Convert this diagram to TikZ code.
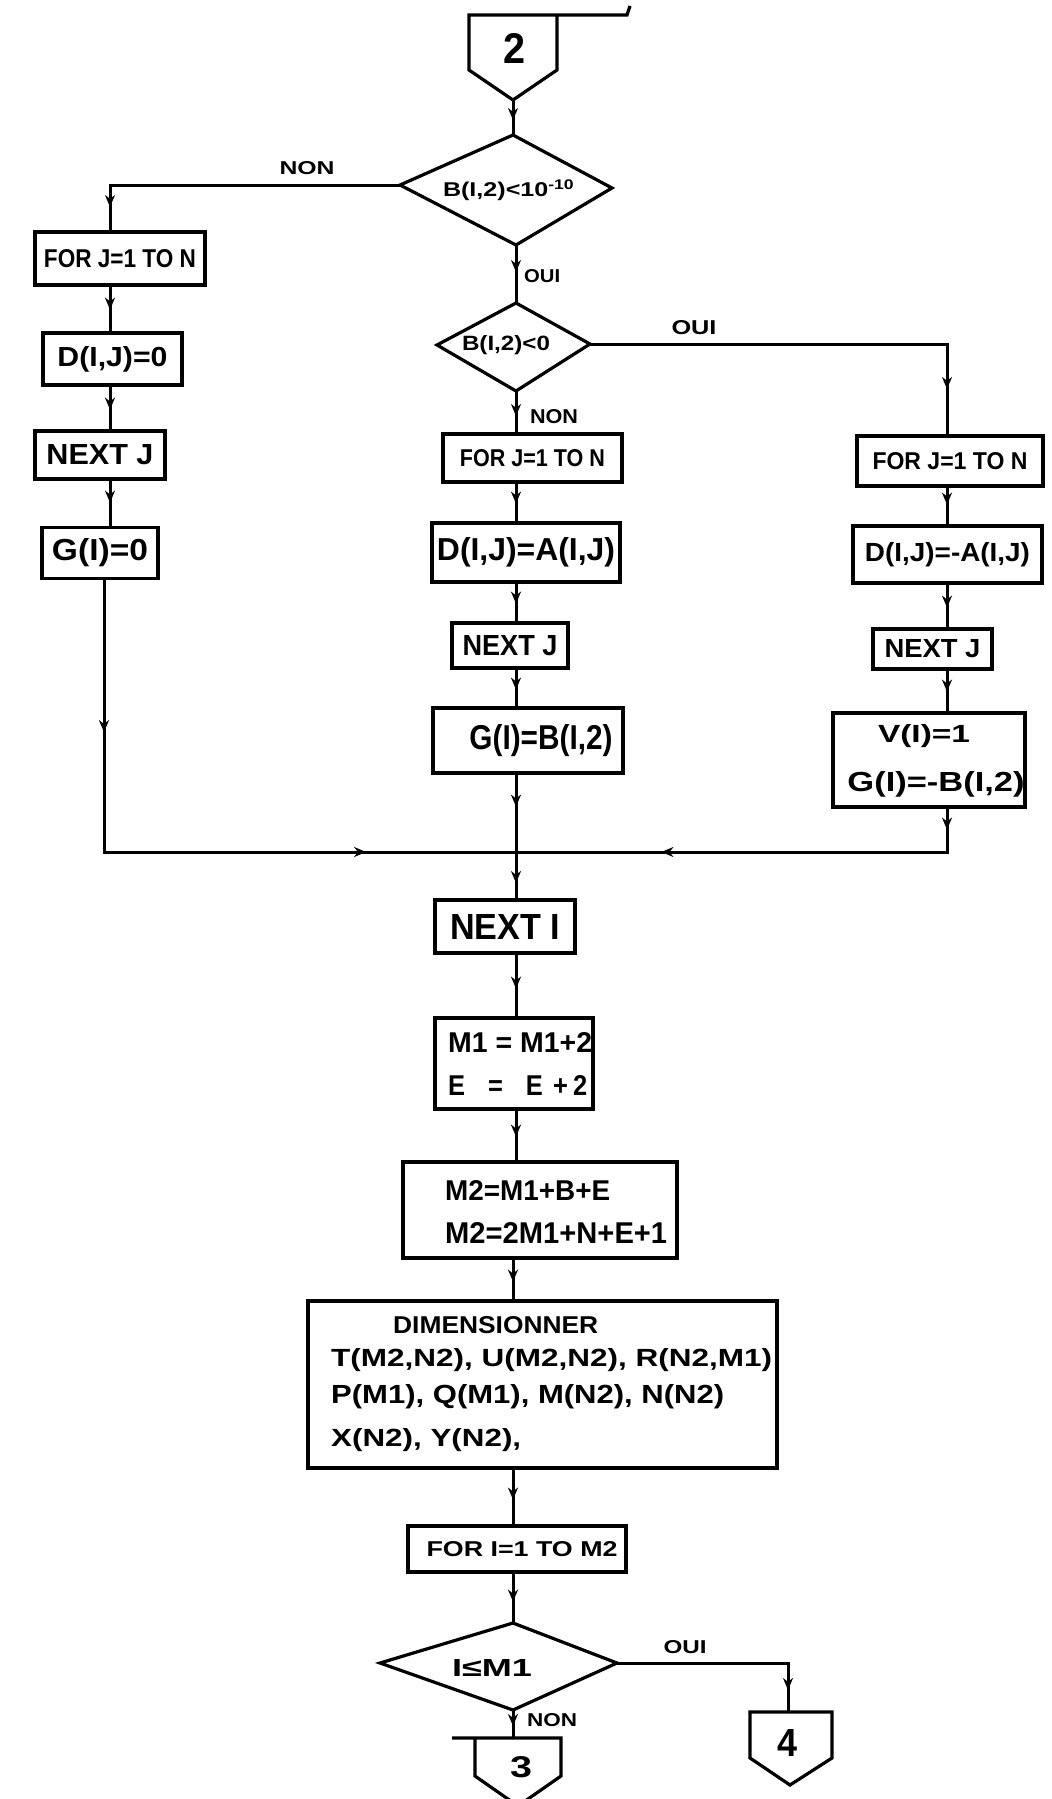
\documentclass[tikz,border=0pt]{standalone}
\usepackage{fontspec}
\setmainfont{Liberation Sans}
\usepackage{graphicx}
\usetikzlibrary{arrows.meta,decorations.markings}
\newcommand{\tw}[3]{\resizebox{#1}{#2}{\bfseries #3}}
\tikzset{
  box/.style={draw, line width=3.2pt, inner sep=0pt, line join=miter},
  txt/.style={inner sep=0pt},
  conn/.style={line width=3pt},
  arrowat/.style={postaction={decorate},decoration={markings,mark=at position #1 with {\arrow{Stealth[length=12pt,width=10pt]}}}},
  arrowtwo/.style 2 args={postaction={decorate},decoration={markings,mark=at position #1 with {\arrow{Stealth[length=12pt,width=10pt]}},mark=at position #2 with {\arrow{Stealth[length=12pt,width=10pt]}}}},
}
\begin{document}
\begin{tikzpicture}[x=1pt,y=-1pt]
\useasboundingbox (0,0) rectangle (1052,1799);
\fill[white] (0,0) rectangle (1052,1799);

% ---- connector 2
\coordinate (p2tl) at (469,15); \coordinate (p2tr) at (557,15);
\coordinate (p2sr) at (557,70); \coordinate (p2tip) at (513,100);
\coordinate (p2sl) at (469,70); \coordinate (p2ext) at (627,15);
\coordinate (p2hook) at (630,6);
\draw[box] (p2hook) -- (p2ext) -- (p2tl) -- (p2sl) -- (p2tip) -- (p2sr) -- (p2tr);
\node[txt] (c2) at (514,48) {\tw{22pt}{30pt}{2}};

% ---- diamond 1
\coordinate (d1t) at (513,135); \coordinate (d1r) at (612,188);
\coordinate (d1b) at (516,245); \coordinate (d1l) at (400,185);
\draw[box] (d1t) -- (d1r) -- (d1b) -- (d1l) -- cycle;
\node[txt] (d1txt) at (509,190) {\tw{132pt}{17pt}{B(I,2)<10\textsuperscript{-10}}};
\draw[conn, arrowat=20pt] (p2tip) -- (d1t);

% ---- left branch
\coordinate (lc) at (110,185);
\node[txt] (non1) at (307,168) {\tw{55pt}{13pt}{NON}};
\node[box, minimum width=170pt, minimum height=53pt] (L1) at (120,258.5) {\tw{152pt}{18pt}{FOR J=1 TO N}};
\node[box, minimum width=139pt, minimum height=52pt] (L2) at (112.5,359) {\tw{110pt}{20pt}{D(I,J)=0}};
\node[box, minimum width=130pt, minimum height=48pt] (L3) at (100,455) {\tw{107pt}{20pt}{NEXT J}};
\node[box, minimum width=116pt, minimum height=51pt] (L4) at (100,553) {\tw{96pt}{22pt}{G(I)=0}};
\draw[conn, arrowat=312pt] (d1l) -- (lc) -- (L1.north -| lc);
\draw[conn, arrowat=23pt] (L1.south -| lc) -- (L2.north -| lc);
\draw[conn, arrowat=23pt] (L2.south -| lc) -- (L3.north -| lc);
\draw[conn, arrowat=22pt] (L3.south -| lc) -- (L4.north -| lc);

% ---- merge coordinates
\coordinate (jl) at (104,852); \coordinate (jm) at (516,852); \coordinate (jr) at (947,852);
\draw[conn, arrowtwo={152pt}{534pt}] (L4.south -| jl) -- (jl) -- (jm);

% ---- diamond 2
\coordinate (d2t) at (516,303); \coordinate (d2r) at (590,344);
\coordinate (d2b) at (516,391); \coordinate (d2l) at (437,345);
\draw[box] (d2t) -- (d2r) -- (d2b) -- (d2l) -- cycle;
\node[txt] (d2txt) at (506,345) {\tw{88pt}{15pt}{B(I,2)<0}};
\draw[conn, arrowat=27pt] (d1b) -- (d2t);
\node[txt, anchor=west] (oui1) at (524,276) {\tw{36pt}{13pt}{OUI}};

% ---- right branch
\coordinate (rc) at (947,344);
\node[txt] (oui2) at (694,328) {\tw{45pt}{14pt}{OUI}};
\node[box, minimum width=186pt, minimum height=50pt] (R1) at (950,461) {\tw{155pt}{17pt}{FOR J=1 TO N}};
\node[box, minimum width=189pt, minimum height=57pt] (R2) at (947.5,554.5) {\tw{165pt}{19pt}{D(I,J)=-A(I,J)}};
\node[box, minimum width=119pt, minimum height=40pt] (R3) at (932.5,649) {\tw{96pt}{18pt}{NEXT J}};
\node[box, minimum width=192pt, minimum height=94pt] (R4) at (929,760) {};
\node[txt] (r4a) at (924,736) {\tw{92pt}{18pt}{V(I)=1}};
\node[txt] (r4b) at (936,784) {\tw{177pt}{20pt}{G(I)=-B(I,2)}};
\draw[conn, arrowat=402pt] (d2r) -- (rc) -- (R1.north -| rc);
\draw[conn, arrowat=17pt] (R1.south -| rc) -- (R2.north -| rc);
\draw[conn, arrowat=23pt] (R2.south -| rc) -- (R3.north -| rc);
\draw[conn, arrowat=21pt] (R3.south -| rc) -- (R4.north -| rc);
\draw[conn, arrowtwo={21pt}{329pt}] (R4.south -| rc) -- (jr) -- (jm);

% ---- middle branch
\node[txt] (non2) at (554,417) {\tw{48pt}{14pt}{NON}};
\node[box, minimum width=179pt, minimum height=48pt] (M1) at (532.5,458) {\tw{145pt}{17pt}{FOR J=1 TO N}};
\node[box, minimum width=188pt, minimum height=59pt] (M2) at (526,552.5) {\tw{178pt}{23pt}{D(I,J)=A(I,J)}};
\node[box, minimum width=116pt, minimum height=45pt] (M3) at (510,645.5) {\tw{95pt}{20pt}{NEXT J}};
\node[box, minimum width=190pt, minimum height=65pt] (M4) at (528,740.5) {\hspace*{26pt}\tw{143pt}{25pt}{G(I)=B(I,2)}};
\draw[conn, arrowat=25pt] (d2b) -- (M1.north -| d2b);
\draw[conn, arrowat=20pt] (M1.south -| jm) -- (M2.north -| jm);
\draw[conn, arrowat=20pt] (M2.south -| jm) -- (M3.north -| jm);
\draw[conn, arrowat=20pt] (M3.south -| jm) -- (M4.north -| jm);
\draw[conn, arrowat=32pt] (M4.south -| jm) -- (jm);

% ---- lower column
\coordinate (lx) at (513,0);
\node[box, minimum width=140pt, minimum height=53pt] (NI) at (505,926.5) {\tw{110pt}{25pt}{NEXT I}};
\node[box, minimum width=158pt, minimum height=91pt] (MB1) at (514,1063.5) {};
\node[txt, anchor=west] (mb1a) at (448,1042) {\tw{144pt}{20pt}{M1 = M1+2}};
\node[txt, anchor=west] (mb1b) at (448,1085) {\tw{139pt}{20pt}{E\hspace{0.9em}=\hspace{0.9em}E\hspace{0.4em}+\hspace{0.2em}2}};
\node[box, minimum width=274pt, minimum height=96pt] (MB2) at (540,1210) {};
\node[txt, anchor=west] (mb2a) at (445,1190) {\tw{165pt}{20pt}{M2=M1+B+E}};
\node[txt, anchor=west] (mb2b) at (445,1233) {\tw{222pt}{21pt}{M2=2M1+N+E+1}};
\node[box, minimum width=469pt, minimum height=167pt] (DIM) at (542.5,1384.5) {};
\node[txt, anchor=west] (dim1) at (393,1325) {\tw{205pt}{17pt}{DIMENSIONNER}};
\node[txt, anchor=west] (dim2) at (331,1360) {\tw{441pt}{18pt}{T(M2,N2), U(M2,N2), R(N2,M1)}};
\node[txt, anchor=west] (dim3) at (331,1397) {\tw{393pt}{19pt}{P(M1), Q(M1), M(N2), N(N2)}};
\node[txt, anchor=west] (dim4) at (331,1440) {\tw{190pt}{18pt}{X(N2), Y(N2),}};
\node[box, minimum width=218pt, minimum height=46pt] (FB) at (517,1549) {\hspace*{10pt}\tw{191pt}{15pt}{FOR I=1 TO M2}};
\draw[conn, arrowat=31pt] (jm) -- (NI.north -| jm);
\draw[conn, arrowat=34pt] (NI.south -| jm) -- (MB1.north -| jm);
\draw[conn, arrowat=26pt] (MB1.south -| jm) -- (MB2.north -| jm);
\draw[conn, arrowat=22pt] (MB2.south -| lx) -- (DIM.north -| lx);
\draw[conn, arrowat=30pt] (DIM.south -| lx) -- (FB.north -| lx);

% ---- diamond 3
\coordinate (d3t) at (513,1623); \coordinate (d3r) at (617,1663);
\coordinate (d3b) at (513,1710); \coordinate (d3l) at (380,1663);
\draw[box] (d3t) -- (d3r) -- (d3b) -- (d3l) -- cycle;
\node[txt] (d3txt) at (492,1668) {\tw{80pt}{17pt}{I≤M1}};
\draw[conn, arrowat=28pt] (FB.south -| d3t) -- (d3t);

% ---- connector 4 (OUI)
\coordinate (oc) at (788,1663);
\coordinate (p4tl) at (750,1712); \coordinate (p4tr) at (832,1712);
\coordinate (p4sr) at (832,1758); \coordinate (p4tip) at (790,1785);
\coordinate (p4sl) at (750,1758);
\draw[box] (p4tl) -- (p4tr) -- (p4sr) -- (p4tip) -- (p4sl) -- cycle;
\node[txt] (c4) at (787,1743) {\tw{20pt}{27pt}{4}};
\node[txt] (oui3) at (685,1647) {\tw{43pt}{13pt}{OUI}};
\draw[conn, arrowat=198pt] (d3r) -- (oc) -- (oc |- p4tl);

% ---- connector 3 (NON)
\coordinate (p3tl) at (475,1738); \coordinate (p3tr) at (561,1738);
\coordinate (p3sr) at (561,1776); \coordinate (p3tip) at (518,1806);
\coordinate (p3sl) at (475,1776); \coordinate (p3ext) at (452,1738);
\draw[box] (p3ext) -- (p3tr) -- (p3sr) -- (p3tip) -- (p3sl) -- (p3tl);
\node[txt] (c3) at (521,1767) {\tw{22pt}{21pt}{3}};
\node[txt] (non3) at (552,1720) {\tw{50pt}{13pt}{NON}};
\draw[conn, arrowat=16pt] (d3b) -- (d3b |- p3tl);
\end{tikzpicture}
\end{document}
